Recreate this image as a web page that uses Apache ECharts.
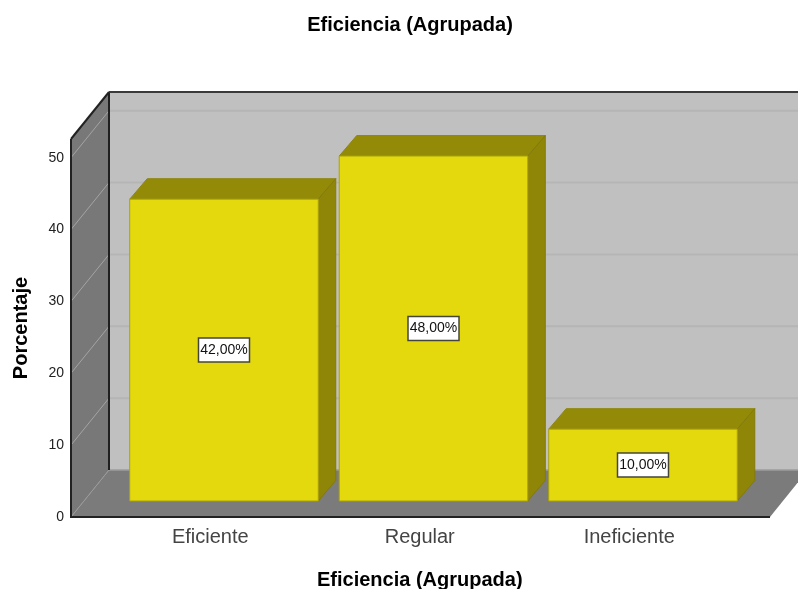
<!DOCTYPE html>
<html>
<head>
<meta charset="utf-8">
<style>html,body{margin:0;padding:0;background:#fff}#c{width:798px;height:589px}</style>
<script src="https://cdn.jsdelivr.net/npm/echarts@6/dist/echarts.min.js"></script>
</head>
<body>
<div id="c"></div>
<script>
var categories = ['Eficiente', 'Regular', 'Ineficiente'];
var percentages = [42, 48, 10];
var percentLabels = ['42,00%', '48,00%', '10,00%'];
var yTicks = [0, 10, 20, 30, 40, 50];
var yMax = 52.6;
var chartTitle = 'Eficiencia (Agrupada)';
var yTitle = 'Porcentaje';

// 3D box geometry (pixel offsets used for the projection only)
var wallDX = 38, wallDY = 47;
var barShiftX = 13.75, barShiftY = 16;
var barDX = 17.5, barDY = 20.5;
var barRatio = 0.9;

var chart = echarts.init(document.getElementById('c'), null, {renderer: 'canvas'});
var font = '"Liberation Sans", Arial, sans-serif';

function poly(pts, fill, stroke, w) {
  return {type: 'polygon', shape: {points: pts}, style: {fill: fill, stroke: stroke || null, lineWidth: w || 0}};
}
function line(a, b, color, w) {
  return {type: 'line', shape: {x1: a[0], y1: a[1], x2: b[0], y2: b[1]}, style: {stroke: color, lineWidth: w}};
}

function renderWalls(params, api) {
  var r = params.coordSys;
  var fl = r.x - 34.5, fr = r.x + r.width + 36;
  var yb = api.coord([0, 0])[1], yt = api.coord([0, yMax])[1];
  var bl = fl + wallDX, br = fr + wallDX;
  var ch = [];
  ch.push(poly([[bl, yt - wallDY], [br, yt - wallDY], [br, yb - wallDY], [bl, yb - wallDY]], '#c0c0c0'));
  ch.push(poly([[fl, yt], [bl, yt - wallDY], [bl, yb - wallDY], [fl, yb]], '#787878'));
  ch.push(poly([[fl, yb], [bl, yb - wallDY], [br, yb - wallDY], [fr, yb]], '#7b7b7b'));
  yTicks.forEach(function (v) {
    if (v === 0) return;
    var y = api.coord([0, v])[1];
    ch.push(line([bl, y - wallDY], [br, y - wallDY], '#b5b5b5', 2));
    ch.push(line([fl, y], [bl, y - wallDY], '#a4a4a4', 1));
  });
  ch.push(line([fl, yb], [bl, yb - wallDY], '#9a9a9a', 1));
  ch.push(line([bl, yb - wallDY], [br, yb - wallDY], '#9c9c9c', 1.5));
  ch.push(line([bl, yt - wallDY], [bl, yb - wallDY], '#1f1f1f', 2));
  ch.push(line([bl, yt - wallDY], [br, yt - wallDY], '#3a3a3a', 2));
  ch.push(line([fl, yt], [bl, yt - wallDY], '#222222', 2));
  ch.push(line([fl, yt], [fl, yb], '#222222', 2));
  ch.push(line([fl - 1, yb], [fr, yb], '#222222', 2));
  return {type: 'group', children: ch};
}

function renderBar(params, api) {
  var i = api.value(0), v = api.value(1);
  var top = api.coord([i, v]), base = api.coord([i, 0]);
  var w = api.size([1, 0])[0] * barRatio;
  var x0 = top[0] + barShiftX - w / 2, x1 = x0 + w;
  var y0 = top[1] - barShiftY, y1 = base[1] - barShiftY;
  var cy = (y0 + y1) / 2, cx = (x0 + x1) / 2;
  return {type: 'group', children: [
    poly([[x0, y0], [x0 + barDX, y0 - barDY], [x1 + barDX, y0 - barDY], [x1, y0]], '#938a08', '#8f8711', 1),
    poly([[x1, y0], [x1 + barDX, y0 - barDY], [x1 + barDX, y1 - barDY], [x1, y1]], '#8f8608', '#827a0a', 1),
    poly([[x0, y0], [x1, y0], [x1, y1], [x0, y1]], '#e4d90c', '#aba20c', 1),
    {type: 'rect', shape: {x: cx - 25.5, y: cy - 12, width: 51, height: 24},
      style: {fill: '#ffffff', stroke: '#45453a', lineWidth: 1.5}},
    {type: 'text', style: {x: cx, y: cy, text: percentLabels[params.dataIndex], align: 'center', verticalAlign: 'middle',
      fill: '#111111', font: '14px ' + font}}
  ]};
}

chart.setOption({
  animation: false,
  backgroundColor: '#ffffff',
  title: {
    text: chartTitle, left: 405, top: 10, textAlign: 'center',
    textStyle: {fontFamily: font, fontSize: 20, fontWeight: 'bold', color: '#000000'}
  },
  grid: {left: 105.5, width: 628.5, top: 139, bottom: 72, containLabel: false, outerBoundsMode: 'none'},
  xAxis: {
    type: 'category', data: categories,
    name: chartTitle, nameLocation: 'middle', nameGap: 53,
    nameTextStyle: {fontFamily: font, fontSize: 20, fontWeight: 'bold', color: '#000000'},
    axisLine: {show: false}, axisTick: {show: false}, splitLine: {show: false},
    axisLabel: {fontFamily: font, fontSize: 20, color: '#444444', margin: 10}
  },
  yAxis: {
    type: 'value', min: 0, max: yMax, interval: 10, offset: 34.5,
    name: yTitle, nameLocation: 'middle', nameGap: 40, nameRotate: 90,
    nameTextStyle: {fontFamily: font, fontSize: 20, fontWeight: 'bold', color: '#000000'},
    axisLine: {show: false}, axisTick: {show: false}, splitLine: {show: false},
    axisLabel: {fontFamily: font, fontSize: 14, color: '#222222', margin: 7, padding: [4, 0, 0, 0], customValues: yTicks}
  },
  series: [
    {type: 'custom', coordinateSystem: 'cartesian2d', silent: true, z: 1,
      renderItem: renderWalls, data: [[0, 0]], clip: false},
    {type: 'custom', coordinateSystem: 'cartesian2d', silent: true, z: 2,
      renderItem: renderBar, clip: false,
      encode: {x: 0, y: 1},
      data: percentages.map(function (v, i) { return [i, v]; })}
  ]
});
</script>
</body>
</html>
